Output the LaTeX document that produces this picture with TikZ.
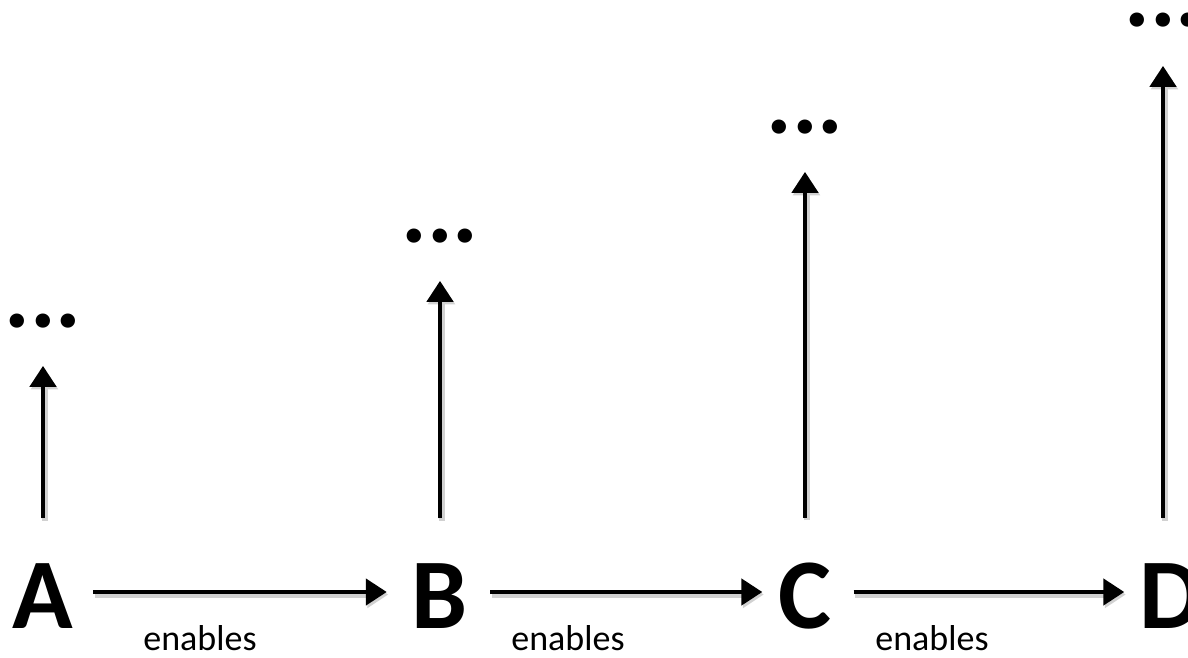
\documentclass[tikz,border=0pt]{standalone}
\usepackage{fontspec}
\setmainfont{Carlito}
\usetikzlibrary{arrows.meta}

\begin{document}
\begin{tikzpicture}[x=1pt,y=-1pt,
        letter/.style={inner sep=0pt, font=\fontsize{100}{100}\selectfont\bfseries},
        more/.style={inner sep=0pt, anchor=base, font=\fontsize{96}{96}\selectfont\bfseries},
        label/.style={inner sep=0pt, anchor=base, font=\fontsize{36}{36}\selectfont},
        flow/.style={line width=4.6pt, -{Triangle[width=26pt,length=21pt]},
            preaction={draw=black!18, line width=6pt, transform canvas={xshift=1.5pt, yshift=-2.5pt}}}]
        \useasboundingbox (0,0) rectangle (1188,658);

        \node[letter] (A) at (43,596) {A};
        \node[letter] (B) at (440,596) {B};
        \node[letter] (C) at (805,596) {C};
        \node[letter] (D) at (1171,596) {D};

        \node[more] (dA) at (43,327) {...};
        \node[more] (dB) at (440,242) {...};
        \node[more] (dC) at (805,133) {...};
        \node[more] (dD) at (1163,27) {...};

        \draw[flow, shorten <=20pt, shorten >=25pt] ([yshift=4pt]A.east) -- ([yshift=4pt]B.west);
        \draw[flow, shorten <=22pt, shorten >=16pt] ([yshift=4pt]B.east) -- ([yshift=4pt]C.west);
        \draw[flow, shorten <=22pt, shorten >=15pt] ([yshift=4pt]C.east) -- ([yshift=4pt]D.west);

        \node[label] (eA) at (200,650) {enables};
        \node[label] (eB) at (568,650) {enables};
        \node[label] (eC) at (932,650) {enables};

        \foreach \l in {A,B,C,D}
            \draw[flow, shorten <=45pt, shorten >=38pt] (d\l.south |- \l.north) -- (d\l.south);
\end{tikzpicture}
\end{document}
